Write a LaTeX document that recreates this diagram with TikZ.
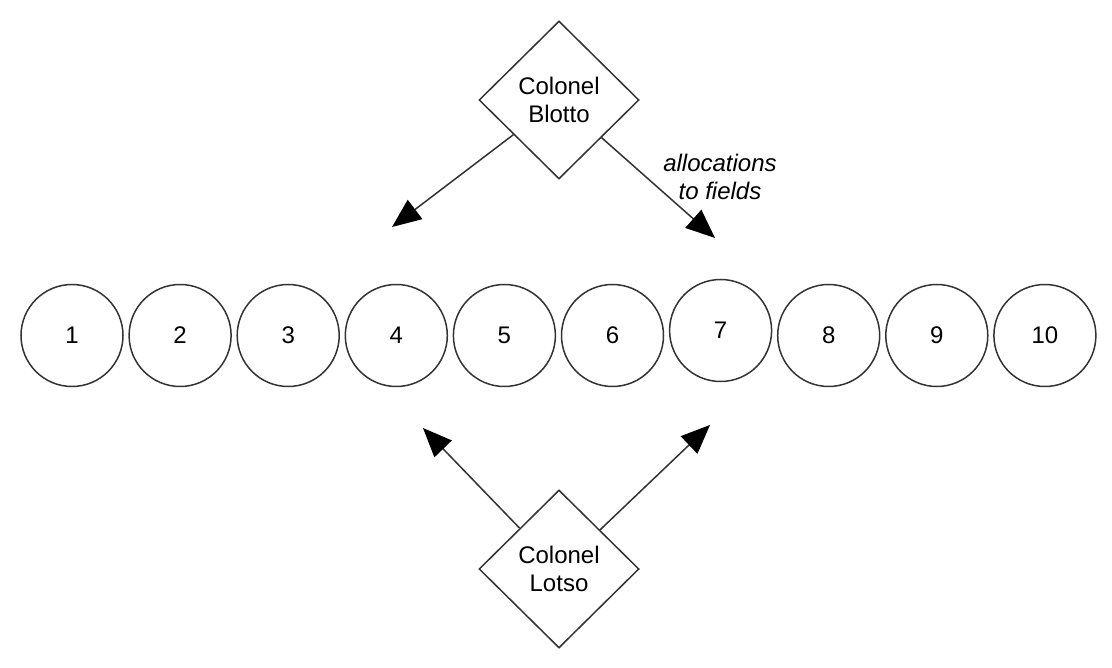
\documentclass[tikz,border=0pt]{standalone}
\usepackage{fontspec}
\setmainfont{Liberation Sans}
\usetikzlibrary{shapes.geometric,arrows.meta}
\definecolor{linegray}{HTML}{333333}
\begin{document}
\begin{tikzpicture}[x=1pt,y=-1pt,
  field/.style={circle,draw=linegray,line width=1.5pt,minimum size=102pt,inner sep=0pt,
    font=\fontsize{24}{27.5}\selectfont},
  player/.style={diamond,draw=linegray,line width=1.5pt,minimum width=160pt,minimum height=158pt,
    inner sep=0pt,align=center,font=\fontsize{24}{27.5}\selectfont},
  alloc/.style={draw=linegray,line width=1.5pt,-{Triangle[length=29pt,width=24pt,black]}},
  note/.style={align=center,font=\fontsize{24}{27.5}\selectfont\itshape}
]
\useasboundingbox (0,0) rectangle (1112,668);
\fill[white] (0,0) rectangle (1112,668);

\foreach \i in {1,...,10}{
  \pgfmathsetmacro{\cx}{72+108.1*(\i-1)}
  \ifnum\i=7
    \node[field] (f\i) at (\cx,330.5) {\i};
  \else
    \node[field] (f\i) at (\cx,335.5) {\i};
  \fi
}

\node[player] (blotto) at (559,100) {Colonel\\Blotto};
\node[player] (lotso) at (559,569) {Colonel\\Lotso};

\coordinate (ta) at (392,227);
\coordinate (tb) at (715,238);
\coordinate (tc) at (423,428);
\coordinate (td) at (710,425);

\draw[alloc] (blotto) -- (ta);
\draw[alloc] (blotto) -- (tb);
\draw[alloc] (lotso) -- (tc);
\draw[alloc] (lotso) -- (td);

\node[note] (lab) at (720,177) {allocations\\to fields};
\end{tikzpicture}
\end{document}
